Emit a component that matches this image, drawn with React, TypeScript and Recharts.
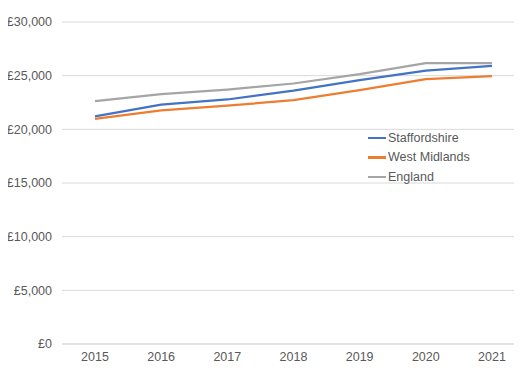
import { LineChart, Line, XAxis, YAxis, CartesianGrid } from 'recharts';

const years = ['2015', '2016', '2017', '2018', '2019', '2020', '2021'];
const staffordshire = [21200, 22300, 22780, 23600, 24580, 25480, 25920];
const westMidlands = [20980, 21760, 22200, 22720, 23650, 24670, 24950];
const england = [22630, 23280, 23710, 24270, 25140, 26160, 26170];
const yTicks = [0, 5000, 10000, 15000, 20000, 25000, 30000];

const SERIES = [
  { key: 'Staffordshire', values: staffordshire, color: '#4472C4' },
  { key: 'West Midlands', values: westMidlands, color: '#ED7D31' },
  { key: 'England', values: england, color: '#A5A5A5' },
];

const data = years.map((year, i) => {
  const row: any = { year };
  SERIES.forEach((s) => {
    row[s.key] = s.values[i];
  });
  return row;
});

const FONT = '"Liberation Sans", Arial, sans-serif';
const TEXT = '#595959';

const formatPounds = (v: number) => '£' + v.toLocaleString('en-GB');

// legend sits inside the plot, so it is drawn as a plain overlay
function LegendBox() {
  return (
    <div
      style={{
        position: 'absolute',
        left: 360,
        top: 120,
        fontFamily: FONT,
        fontSize: 12.5,
        color: TEXT,
      }}
    >
      {SERIES.map((s) => (
        <div
          key={s.key}
          style={{ display: 'flex', alignItems: 'center', height: 19.5 }}
        >
          <span
            style={{
              display: 'inline-block',
              width: 18,
              height: 2.5,
              background: s.color,
              marginRight: 2,
            }}
          />
          {s.key}
        </div>
      ))}
    </div>
  );
}

export default function App() {
  return (
    <div style={{ position: 'relative', width: 514, height: 369 }}>
      <LineChart
        width={514}
        height={369}
        data={data}
        margin={{ top: 14, right: 0, bottom: 3, left: 0 }}
      >
        <CartesianGrid vertical={false} stroke="#D9D9D9" strokeWidth={1} />
        <XAxis
          dataKey="year"
          height={30}
          padding={{ left: 33, right: 30 }}
          tickLine={false}
          axisLine={{ stroke: '#D9D9D9' }}
          tick={{ fill: TEXT, fontSize: 12.5, fontFamily: FONT }}
        />
        <YAxis
          width={54}
          domain={[0, 30000]}
          ticks={yTicks}
          tickFormatter={formatPounds}
          axisLine={false}
          tickLine={false}
          tickMargin={4}
          tick={{ fill: TEXT, fontSize: 12.5, fontFamily: FONT }}
        />
        {SERIES.map((s) => (
          <Line
            key={s.key}
            dataKey={s.key}
            stroke={s.color}
            strokeWidth={2.25}
            dot={false}
            isAnimationActive={false}
          />
        ))}
      </LineChart>
      <LegendBox />
    </div>
  );
}
